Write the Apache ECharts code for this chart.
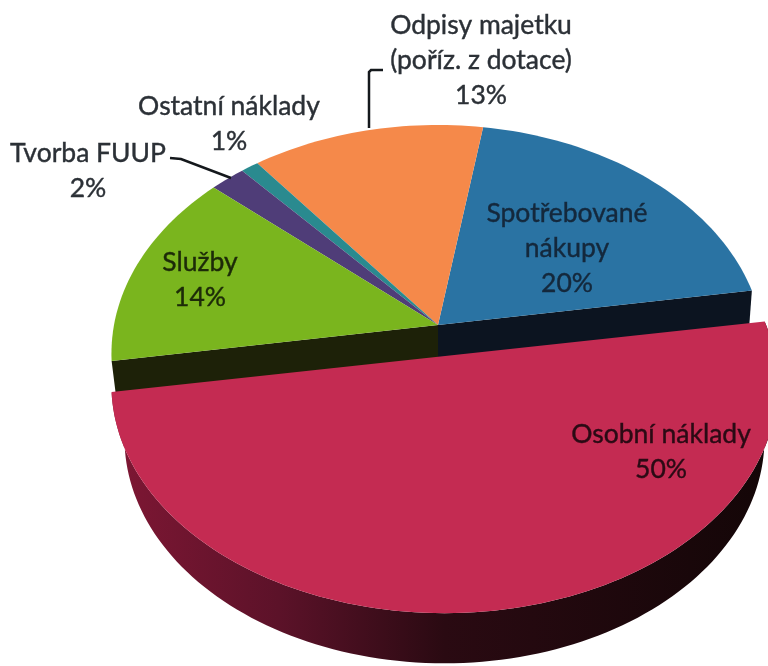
<!DOCTYPE html>
<html>
<head>
<meta charset="utf-8">
<title>Náklady</title>
<script src="https://cdn.jsdelivr.net/npm/echarts@6/dist/echarts.min.js"></script>
<style>
  html, body { margin: 0; padding: 0; background: #fff; }
  #chart { width: 768px; height: 666px; }
</style>
</head>
<body>
<div id="chart"></div>
<script>
// counter-clockwise from the right edge, the exploded slice comes last so it draws on top
const categories = ['Spotřebované\nnákupy', 'Odpisy majetku\n(poříz. z dotace)', 'Ostatní náklady', 'Tvorba FUUP', 'Služby', 'Osobní náklady']
const values = [20, 13, 1, 2, 14, 50]

const faceColors = ['#2a73a3', '#f5894a', '#2a8a8f', '#4f3d78', '#7ab51e', '#c42b52']
const labelPos = [[567, 248], [481, 60], [229, 124], [88, 171], [200, 280], [661, 452]]
const labelColors = ['#14283c', '#2b3036', '#2b3036', '#2b3036', '#1c2a08', '#2a0a14']

// pie geometry in pixels: a flat disc seen in perspective
const startDeg = 9
const rx = 324
const ry = 225
const persp = 0.125
const cx = 438
const cy = 325
const total = values.reduce((a, b) => a + b, 0)

function project(deg, r) {
  const u = r * Math.cos(deg * Math.PI / 180)
  const v = -r * Math.sin(deg * Math.PI / 180)
  const d = 1 - persp * v
  return [rx * u / d, ry * v / d]
}

function arcPoints(from, to, fn) {
  const pts = []
  const steps = Math.ceil(Math.abs(to - from) / 1.5)
  for (let i = 0; i <= steps; i++) {
    pts.push(fn(from + (to - from) * i / steps))
  }
  return pts
}

function renderItem(params, api) {
  const i = params.dataIndex
  const before = values.slice(0, i).reduce((a, b) => a + b, 0)
  const a0 = startDeg + before / total * 360
  const a1 = a0 + values[i] / total * 360
  const children = []
  const exploded = i === values.length - 1

  if (exploded) {
    // red slice is pulled towards the viewer and looks a bit wider
    const face = (a) => {
      const p = project(a, 1)
      return [444.5 + p[0] * 1.02, cy + 31 + p[1]]
    }
    const bottom = (a) => {
      const p = project(a, 1)
      return [444.5 + p[0] * 0.98, cy + 31 + p[1] * 0.985 + 54]
    }
    const arc = arcPoints(a0, a1, face)
    const low = arcPoints(a1, a0, bottom)
    children.push({
      type: 'polygon',
      shape: { points: arc.concat(low) },
      style: {
        fill: new echarts.graphic.LinearGradient(0, 0, 1, 0, [
          { offset: 0, color: '#7f1734' },
          { offset: 0.25, color: '#5c1229' },
          { offset: 0.5, color: '#2a0a12' },
          { offset: 1, color: '#130607' }
        ], false)
      }
    })
    children.push({
      type: 'polygon',
      shape: { points: arc },
      style: { fill: faceColors[i] }
    })
  } else {
    const face = (a) => {
      const p = project(a, 1)
      return [cx + p[0], cy + p[1]]
    }
    // walls on the cut, only the two slices next to the red one show them
    if (i === 0) {
      const e = face(a0)
      children.push({
        type: 'polygon',
        shape: { points: [[cx, cy], e, [e[0] - 3, e[1] + 40], [cx, cy + 40]] },
        style: { fill: '#0c1420' }
      })
    }
    if (i === values.length - 2) {
      const e = face(a1)
      children.push({
        type: 'polygon',
        shape: { points: [[cx, cy], e, [e[0] + 5, e[1] + 40], [cx, cy + 40]] },
        style: { fill: '#1d2108' }
      })
    }
    children.push({
      type: 'polygon',
      shape: { points: [[cx, cy]].concat(arcPoints(a0, a1, face)) },
      style: { fill: faceColors[i] }
    })
  }

  return { type: 'group', children: children }
}

function labelItem(params) {
  const i = params.dataIndex
  return {
    type: 'text',
    x: labelPos[i][0],
    y: labelPos[i][1],
    style: {
      text: categories[i] + '\n' + values[i] + '%',
      fill: labelColors[i],
      stroke: labelColors[i],
      lineWidth: 0.4,
      font: '26.5px Lato',
      lineHeight: 35,
      align: 'center',
      verticalAlign: 'middle'
    }
  }
}

const chart = echarts.init(document.getElementById('chart'), null, { renderer: 'canvas' })
chart.setOption({
  animation: false,
  backgroundColor: '#ffffff',
  series: [
    {
      type: 'custom',
      coordinateSystem: 'none',
      renderItem: renderItem,
      data: values,
      z: 2
    },
    {
      type: 'custom',
      coordinateSystem: 'none',
      renderItem: labelItem,
      data: values,
      z: 4
    }
  ],
  graphic: [
    {
      type: 'polyline',
      z: 3,
      shape: { points: [[369, 128], [369, 72], [371, 70], [383, 70]] },
      style: { stroke: '#14181c', lineWidth: 2.5, fill: null }
    },
    {
      type: 'polyline',
      z: 3,
      shape: { points: [[170, 158], [181, 159], [231, 178]] },
      style: { stroke: '#14181c', lineWidth: 2.5, fill: null }
    }
  ]
})
</script>
</body>
</html>
